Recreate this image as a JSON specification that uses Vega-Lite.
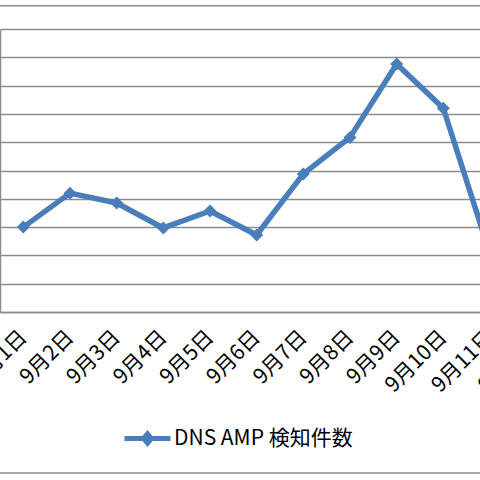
{
  "$schema": "https://vega.github.io/schema/vega-lite/v6.json",
  "width": 480,
  "height": 283,
  "autosize": {"type": "none"},
  "padding": {"top": 29, "left": 0, "right": 0, "bottom": 168},
  "background": "white",
  "config": {"view": {"stroke": null}, "font": "Noto Sans CJK JP"},
  "datasets": {
    "counts": [
      {"date": "9月1日", "value": 3.0, "series": "DNS AMP 検知件数"},
      {"date": "9月2日", "value": 4.2, "series": "DNS AMP 検知件数"},
      {"date": "9月3日", "value": 3.85, "series": "DNS AMP 検知件数"},
      {"date": "9月4日", "value": 2.97, "series": "DNS AMP 検知件数"},
      {"date": "9月5日", "value": 3.57, "series": "DNS AMP 検知件数"},
      {"date": "9月6日", "value": 2.72, "series": "DNS AMP 検知件数"},
      {"date": "9月7日", "value": 4.88, "series": "DNS AMP 検知件数"},
      {"date": "9月8日", "value": 6.17, "series": "DNS AMP 検知件数"},
      {"date": "9月9日", "value": 8.76, "series": "DNS AMP 検知件数"},
      {"date": "9月10日", "value": 7.2, "series": "DNS AMP 検知件数"},
      {"date": "9月11日", "value": 2.05, "series": "DNS AMP 検知件数"},
      {"date": "9月12日", "value": 1.6, "series": "DNS AMP 検知件数"}
    ],
    "frame": [
      {"edge": 10.82},
      {"edge": -5.69}
    ]
  },
  "layer": [
    {
      "data": {"name": "counts"},
      "mark": {
        "type": "line",
        "strokeWidth": 5.5,
        "strokeJoin": "round",
        "point": {"filled": true, "shape": "diamond", "size": 169, "opacity": 1}
      },
      "encoding": {
        "x": {
          "field": "date",
          "type": "ordinal",
          "sort": null,
          "scale": {"type": "point", "range": [0, 560], "padding": 0.5},
          "axis": {
            "title": null,
            "labelAngle": -45,
            "labelAlign": "right",
            "labelBaseline": "middle",
            "labelFontSize": 21,
            "labelColor": "black",
            "labelPadding": 22,
            "ticks": false,
            "domainColor": "#8c8c8c",
            "domainWidth": 1.5,
            "labelOverlap": false
          }
        },
        "y": {
          "field": "value",
          "type": "quantitative",
          "scale": {"domain": [0, 10], "nice": false},
          "axis": {
            "title": null,
            "labels": false,
            "ticks": false,
            "values": [0, 1, 2, 3, 4, 5, 6, 7, 8, 9, 10],
            "domainColor": "#8c8c8c",
            "domainWidth": 1.5,
            "grid": true,
            "gridColor": "#8c8c8c",
            "gridWidth": 1.3,
            "gridOpacity": 1
          }
        },
        "color": {
          "field": "series",
          "type": "nominal",
          "scale": {"range": ["#4a7ebb"]},
          "legend": {
            "title": null,
            "orient": "none",
            "legendX": 122,
            "legendY": 384,
            "padding": 0,
            "symbolType": "M-1,0H1M0,-0.2L0.17,0L0,0.2L-0.17,0Z",
            "symbolSize": 2116,
            "symbolStrokeWidth": 5,
            "symbolFillColor": "#4a7ebb",
            "labelFontSize": 21,
            "labelLimit": 400,
            "labelColor": "black",
            "labelOffset": 1
          }
        }
      }
    },
    {
      "data": {"name": "frame"},
      "mark": {"type": "rule", "color": "#8c8c8c", "strokeWidth": 1.5},
      "encoding": {
        "y": {
          "field": "edge",
          "type": "quantitative",
          "axis": {
            "title": null,
            "labels": false,
            "ticks": false,
            "values": [0, 1, 2, 3, 4, 5, 6, 7, 8, 9, 10],
            "domainColor": "#8c8c8c",
            "domainWidth": 1.5,
            "grid": true,
            "gridColor": "#8c8c8c",
            "gridWidth": 1.3,
            "gridOpacity": 1
          }
        }
      }
    }
  ]
}
